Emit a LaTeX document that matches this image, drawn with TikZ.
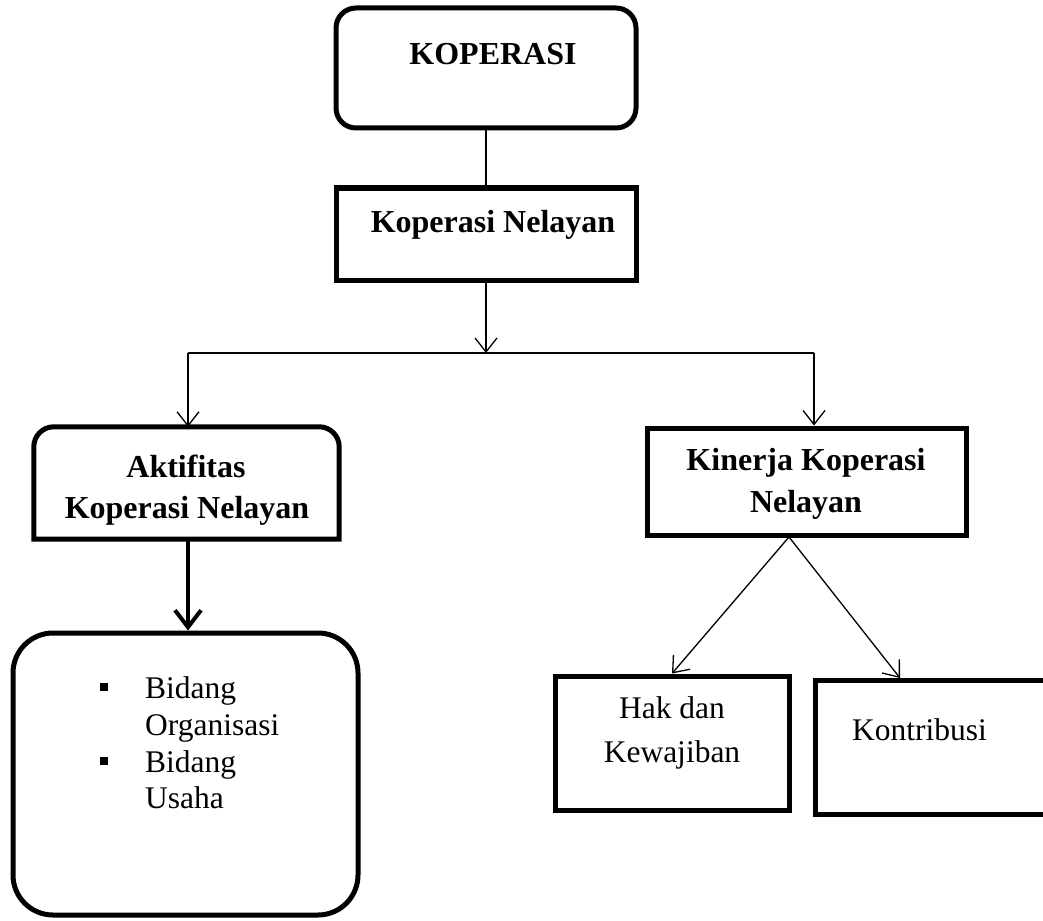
\documentclass[tikz,border=0pt]{standalone}
\usepackage{fontspec}
\setmainfont{Liberation Serif}
\usetikzlibrary{arrows.meta}
\tikzset{
  box/.style={draw, line width=5pt, inner sep=0pt},
  conn/.style={line width=1.3pt},
  arr/.style={conn, -{Straight Barb[length=14pt,width=22pt]}},
  bigarr/.style={line width=4pt, -{Straight Barb[length=17pt,width=26pt]}},
  hd/.style={font=\fontsize{32}{40}\selectfont\bfseries, anchor=base, inner sep=0pt},
  tx/.style={font=\fontsize{31.5}{40}\selectfont, anchor=base, inner sep=0pt},
  bul/.style={fill=black, minimum size=8pt, inner sep=0pt},
}
\begin{document}
\begin{tikzpicture}[x=1pt,y=-1pt]
\useasboundingbox (0,0) rectangle (1043,920);
\clip (0,0) rectangle (1043,920);
% boxes
\node[box, rounded corners=20pt, minimum width=300pt, minimum height=120pt] (kop) at (486,68) {};
\node[box, minimum width=300pt, minimum height=92pt] (kn) at (486,234) {};
\node[inner sep=0pt, minimum width=305pt, minimum height=112pt] (akt) at (186.5,483) {};
\draw[line width=5pt] (akt.south west) [rounded corners=20pt] -- (akt.north west) -- (akt.north east) [sharp corners] -- (akt.south east) -- cycle;
\node[box, rounded corners=40pt, minimum width=345pt, minimum height=282pt] (bid) at (185.5,774) {};
\node[box, minimum width=319pt, minimum height=107pt] (kin) at (806.5,481.5) {};
\node[box, minimum width=234pt, minimum height=134pt] (hak) at (672,743) {};
\node[box, minimum width=250pt, minimum height=134pt, anchor=north west] (kon) at (813,678) {};
% texts
\node[hd] (t1) at (493,65) {KOPERASI};
\node[hd] (t2) at (493,232) {Koperasi Nelayan};
\node[hd] (t3) at (186,477) {Aktifitas};
\node[hd] (t4) at (187,518) {Koperasi Nelayan};
\node[hd] (t5) at (806,470) {Kinerja Koperasi};
\node[hd] (t6) at (806,512) {Nelayan};
\node[tx] (t7) at (672,718) {Hak dan};
\node[tx] (t8) at (672,762) {Kewajiban};
\node[tx, anchor=base west] (t9) at (852,740) {Kontribusi};
\node[bul] (b1) at (104,687) {};
\node[bul] (b2) at (104,761) {};
\node[tx, anchor=base west] (u1) at (145,698) {Bidang};
\node[tx, anchor=base west] (u2) at (145,735) {Organisasi};
\node[tx, anchor=base west] (u3) at (145,772) {Bidang};
\node[tx, anchor=base west] (u4) at (145,808) {Usaha};
% connectors
\coordinate (j) at (486,353);
\coordinate (jl) at (188,353);
\coordinate (jr) at (814,353);
\coordinate (ks) at (789,537);
\draw[conn] (kop.south) -- (kn.north);
\draw[arr] (kn.south) -- (j);
\draw[conn] (jl) -- (jr);
\draw[arr] (jl) -- (jl |- akt.north);
\draw[arr] (jr) -- (jr |- kin.north);
\draw[bigarr] (akt.south -| jl) -- (jl |- bid.north);
\draw[arr] (ks) -- (hak.north);
\draw[arr] (ks) -- ([xshift=87pt]kon.north west);
\end{tikzpicture}
\end{document}
